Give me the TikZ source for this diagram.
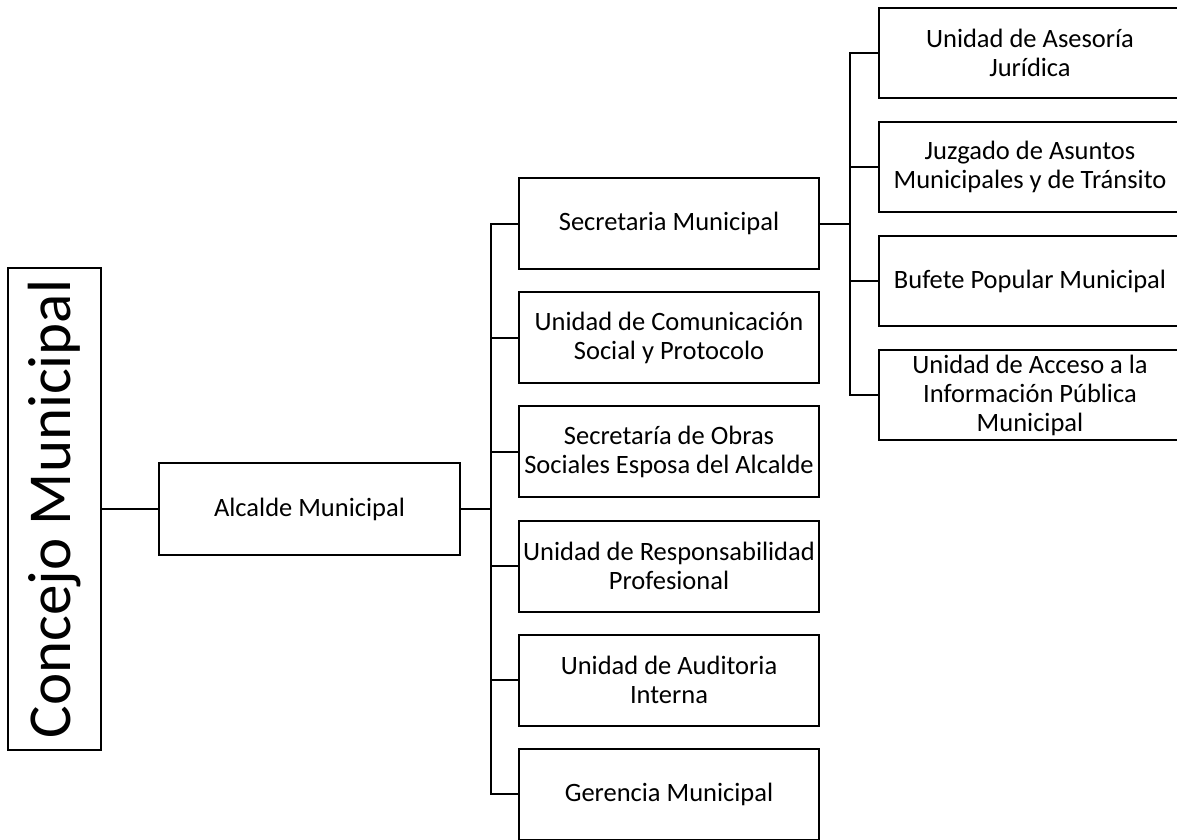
\documentclass[tikz,border=0pt]{standalone}
\usepackage{fontspec}
\setmainfont{Carlito}
\usepackage{tikz}

\tikzset{
	caja/.style={draw, line width=2pt, align=center, minimum width=300pt, minimum height=91pt, inner xsep=0pt, inner ysep=2pt, font=\fontsize{26.5}{29}\selectfont},
	linea/.style={line width=2pt}
}

\begin{document}
\begin{tikzpicture}[x=1pt,y=-1pt]
	\useasboundingbox (0,0) rectangle (1177,839);
			\node[draw, line width=2pt, rotate=90, minimum width=482pt, minimum height=93pt, inner sep=0pt, font=\fontsize{61}{63}\selectfont] (concejo) at (54.5,509) {Concejo Municipal};
			\node[caja, minimum width=301pt, minimum height=92pt] (alcalde) at (309.5,509) {Alcalde Municipal};
			% segundo nivel
			\node[caja] (sec) at (669,223.5) {Secretaria Municipal};
			\node[caja] (com) at (669,337.5) {Unidad de Comunicación\\Social y Protocolo};
			\node[caja] (obr) at (669,451.5) {Secretaría de Obras\\Sociales Esposa del Alcalde};
			\node[caja] (res) at (669,566) {Unidad de Responsabilidad\\Profesional};
			\node[caja] (aud) at (669,680) {Unidad de Auditoria\\Interna};
			\node[caja] (ger) at (669,794) {Gerencia Municipal};
			% tercer nivel
			\node[caja, minimum width=302pt, minimum height=90pt] (ase) at (1030,53) {Unidad de Asesoría\\Jurídica};
			\node[caja, minimum width=302pt, minimum height=90pt] (juz) at (1030,167) {Juzgado de Asuntos\\Municipales y de Tránsito};
			\node[caja, minimum width=302pt, minimum height=90pt] (buf) at (1030,281) {Bufete Popular Municipal};
			\node[caja, minimum width=302pt, minimum height=90pt] (acc) at (1030,395) {Unidad de Acceso a la\\Información Pública\\Municipal};
			% conectores
			\draw[linea] (concejo.south) -- (alcalde.west);
			\draw[linea] (alcalde.east) -- ++(30,0) coordinate (t1);
			\foreach \n in {sec,com,obr,res,aud,ger}
				\draw[linea] (t1) |- (\n.west);
			\draw[linea] (sec.east) -- ++(30,0) coordinate (t2);
			\foreach \n in {ase,juz,buf,acc}
				\draw[linea] (t2) |- (\n.west);
	\end{tikzpicture}
\end{document}
